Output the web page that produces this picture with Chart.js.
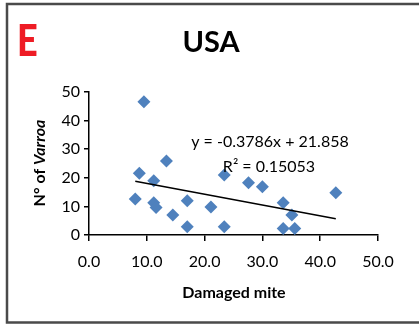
<!DOCTYPE html>
<html>
<head>
<meta charset="utf-8">
<script src="https://cdn.jsdelivr.net/npm/chart.js@4"></script>
<style>
  html, body { margin: 0; padding: 0; background: #fff; }
  #wrap { width: 419px; height: 324px; position: relative; }
</style>
</head>
<body>
<div id="wrap"><canvas id="chart" width="419" height="324"></canvas></div>
<script>
// Damaged mite (x) vs number of Varroa (y), USA
const damagedMite = [9.5, 8.7, 13.4, 11.2, 8.0, 11.2, 11.6, 14.5, 17.0, 17.0, 21.1, 23.4, 23.4, 27.6, 30.0, 33.6, 35.1, 33.6, 35.6, 42.7];
const varroaCount = [46.6, 21.6, 25.9, 19.0, 12.6, 11.3, 9.6, 7.0, 12.0, 2.9, 9.8, 21.0, 2.9, 18.3, 16.9, 11.3, 7.0, 2.3, 2.3, 14.8];

// linear trendline endpoints (min x .. max x)
const trendX = [8.0, 42.7];
const trendY = [18.83, 5.69];

const equationLines = ["y = -0.3786x + 21.858", "R\u00B2 = 0.15053"];
const panelLetter = "E";
const chartTitle = "USA";
const xTitle = "Damaged mite";
const yTitleParts = [["N\u00B0 of ", "bold"], ["Varroa", "italic bold"]];

const FONT = "Lato, 'Open Sans', sans-serif";
const blue = "#4F81BD";

const decorations = {
  id: "decorations",
  beforeDraw(chart) {
    const ctx = chart.ctx;
    ctx.save();
    // frame (left, top, bottom only)
    ctx.strokeStyle = "#4a4a4a";
    ctx.lineWidth = 2.5;
    ctx.beginPath();
    ctx.moveTo(419, 4);
    ctx.lineTo(7, 4);
    ctx.lineTo(7, 322.5);
    ctx.lineTo(419, 322.5);
    ctx.stroke();
    ctx.restore();
  },
  afterDraw(chart) {
    const ctx = chart.ctx;
    ctx.save();
    ctx.fillStyle = "#000";
    ctx.textBaseline = "middle";

    // panel letter
    ctx.save();
    ctx.fillStyle = "#ee1c25";
    ctx.font = "900 44px " + FONT;
    ctx.textAlign = "left";
    ctx.translate(17, 42);
    ctx.scale(0.82, 1);
    ctx.fillText(panelLetter, 0, 0);
    ctx.restore();

    // title
    ctx.font = "bold 29px " + FONT;
    ctx.textAlign = "center";
    ctx.fillText(chartTitle, 211, 43);

    // equation
    ctx.font = "16px " + FONT;
    ctx.fillText(equationLines[0], 270, 142);
    ctx.fillText(equationLines[1], 269, 167);

    // x axis title
    ctx.font = "bold 16px " + FONT;
    ctx.fillText(xTitle, 234, 293);

    // y axis title, mixed style
    ctx.save();
    ctx.translate(40, 163);
    ctx.rotate(-Math.PI / 2);
    let total = 0;
    for (const [t, s] of yTitleParts) {
      ctx.font = s + " 16px " + FONT;
      total += ctx.measureText(t).width;
    }
    let x = -total / 2;
    ctx.textAlign = "left";
    for (const [t, s] of yTitleParts) {
      ctx.font = s + " 16px " + FONT;
      ctx.fillText(t, x, 0);
      x += ctx.measureText(t).width;
    }
    ctx.restore();
    ctx.restore();
  }
};

new Chart(document.getElementById("chart").getContext("2d"), {
  type: "scatter",
  data: {
    datasets: [
      {
        data: damagedMite.map((x, i) => ({ x, y: varroaCount[i] })),
        pointStyle: "rectRot",
        pointRadius: 6.5,
        pointBackgroundColor: blue,
        pointBorderColor: blue,
        pointBorderWidth: 0,
        order: 2,
      },
      {
        type: "line",
        data: trendX.map((x, i) => ({ x, y: trendY[i] })),
        borderColor: "#000",
        borderWidth: 1.5,
        pointRadius: 0,
        fill: false,
        order: 1,
      },
    ],
  },
  options: {
    responsive: false,
    animation: false,
    layout: { padding: { left: 0, top: 92, right: 41, bottom: 0 } },
    plugins: { legend: { display: false }, tooltip: { enabled: false } },
    scales: {
      x: {
        type: "linear",
        min: 0,
        max: 50,
        afterFit: (scale) => { scale.height = 89; },
        ticks: {
          stepSize: 10,
          color: "#000",
          font: { family: FONT, size: 16 },
          padding: 11,
          maxRotation: 0,
          callback: (v) => v.toFixed(1),
        },
        grid: { drawOnChartArea: false, drawTicks: true, tickLength: 6, color: "#000", lineWidth: 1.5 },
        border: { display: true, color: "#000", width: 1.5 },
      },
      y: {
        min: 0,
        max: 50,
        afterFit: (scale) => { scale.width = 89; },
        ticks: {
          stepSize: 10,
          color: "#000",
          font: { family: FONT, size: 16 },
          padding: 4,
        },
        grid: { drawOnChartArea: false, drawTicks: true, tickLength: 5, color: "#000", lineWidth: 1.5 },
        border: { display: true, color: "#000", width: 1.5 },
      },
    },
  },
  plugins: [decorations],
});
</script>
</body>
</html>
